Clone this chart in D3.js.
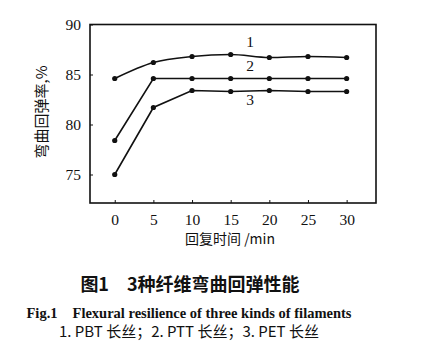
<!DOCTYPE html>
<html><head><meta charset="utf-8">
<script src="https://cdn.jsdelivr.net/npm/d3@7"></script>
<style>body{margin:0;background:#fff}svg{display:block}</style>
</head><body>
<svg id="c" width="431" height="358"></svg>
<script>
const times = [0, 5, 10, 15, 20, 25, 30];
const pbt = [84.6, 86.2, 86.8, 87.0, 86.7, 86.8, 86.7];
const ptt = [78.4, 84.6, 84.6, 84.6, 84.6, 84.6, 84.6];
const pet = [75.0, 81.7, 83.4, 83.3, 83.4, 83.3, 83.3];
const yTicks = [75, 80, 85, 90];
const seriesLabels = ["1", "2", "3"];
const yTitle = "弯曲回弹率,%";
const xTitle = "回复时间 /min";
const cap1 = "图1　3种纤维弯曲回弹性能";
const cap2 = "Fig.1　Flexural resilience of three kinds of filaments";
const cap3 = "1. PBT 长丝；2. PTT 长丝；3. PET 长丝";

const svg = d3.select("#c");
const L = 90, R = 376, T = 24.5, B = 203;
const x = d3.scaleLinear().domain([-3.2, 33.8]).range([L, R]);
const y = d3.scaleLinear().domain([72.15, 90]).range([B, T]);
const serif = "'Liberation Serif','DejaVu Serif',serif";
const cjk = "'Noto Sans CJK SC',sans-serif";

svg.append("rect").attr("x", L).attr("y", T).attr("width", R - L).attr("height", B - T)
  .attr("fill", "none").attr("stroke", "#111").attr("stroke-width", 1.6);

const xa = svg.append("g").attr("transform", `translate(0,${B})`)
  .call(d3.axisBottom(x).tickValues(times).tickSizeInner(-3).tickSizeOuter(0).tickPadding(11));
const ya = svg.append("g").attr("transform", `translate(${L},0)`)
  .call(d3.axisLeft(y).tickValues(yTicks).tickSizeInner(-3).tickSizeOuter(0).tickPadding(9));
[xa, ya].forEach(a => {
  a.select(".domain").remove();
  a.selectAll("line").attr("stroke", "#111").attr("stroke-width", 1);
  a.selectAll("text").attr("font-family", serif).attr("font-size", 15.5).attr("fill", "#111");
});

const all = [pbt, ptt, pet];
const curves = [d3.curveMonotoneX, d3.curveLinear, d3.curveLinear];
all.forEach((vals, i) => {
  const pts = times.map((t, j) => [t, vals[j]]);
  svg.append("path").datum(pts)
    .attr("d", d3.line().x(d => x(d[0])).y(d => y(d[1])).curve(curves[i]))
    .attr("fill", "none").attr("stroke", "#111").attr("stroke-width", 1.6);
  svg.append("g").selectAll("circle").data(pts).join("circle")
    .attr("cx", d => x(d[0])).attr("cy", d => y(d[1])).attr("r", 2.6).attr("fill", "#111");
});

const labPos = [[17.5, 88.1], [17.5, 85.75], [17.5, 82.3]];
seriesLabels.forEach((s, i) => {
  svg.append("text").attr("x", x(labPos[i][0])).attr("y", y(labPos[i][1]))
    .attr("text-anchor", "middle").attr("dominant-baseline", "middle")
    .attr("font-family", serif).attr("font-size", 15.5).attr("fill", "#111").text(s);
});

svg.append("text").attr("transform", `translate(43,112) rotate(-90)`)
  .attr("text-anchor", "middle").attr("dominant-baseline", "middle")
  .attr("font-family", cjk).attr("font-size", 15).attr("fill", "#111").text(yTitle);

svg.append("text").attr("x", 230).attr("y", 240).attr("text-anchor", "middle")
  .attr("dominant-baseline", "middle")
  .attr("font-family", cjk).attr("font-size", 14).attr("fill", "#111").text(xTitle);

svg.append("text").attr("x", 190).attr("y", 286).attr("text-anchor", "middle")
  .attr("dominant-baseline", "middle")
  .attr("font-family", cjk).attr("font-weight", "bold").attr("font-size", 18).attr("fill", "#111").text(cap1);
svg.append("text").attr("x", 189).attr("y", 315).attr("text-anchor", "middle")
  .attr("dominant-baseline", "middle")
  .attr("font-family", serif).attr("font-weight", "bold").attr("font-size", 14.5).attr("fill", "#111").text(cap2);
svg.append("text").attr("x", 189).attr("y", 333).attr("text-anchor", "middle")
  .attr("dominant-baseline", "middle")
  .attr("font-family", cjk).attr("font-size", 15).attr("fill", "#111").text(cap3);
</script>
</body></html>
